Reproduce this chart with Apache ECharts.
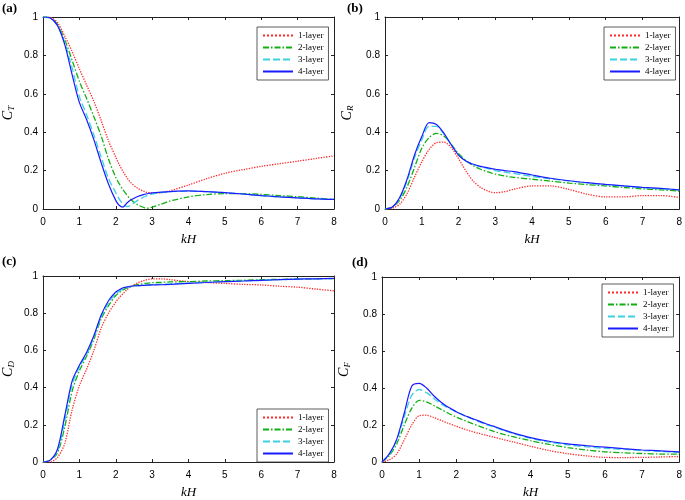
<!DOCTYPE html>
<html><head><meta charset="utf-8">
<script src="https://cdn.jsdelivr.net/npm/echarts@6/dist/echarts.min.js"></script>
<style>html,body{margin:0;padding:0;background:#fff}#c{width:685px;height:500px}</style>
</head><body><div id="c"></div>
<script>
var kH = [0,0.2,0.4,0.6,0.8,1.0,1.2,1.4,1.6,1.8,2.0,2.1,2.2,2.3,2.4,2.6,2.8,2.9,3.0,3.25,3.5,4,4.5,5,5.5,6,6.5,7,7.5,8];
var layerNames = ['1-layer','2-layer','3-layer','4-layer'];

// (a) C_T
var CT_1 = [1,0.998,0.97,0.9,0.82,0.73,0.645,0.56,0.46,0.355,0.27,0.23,0.195,0.165,0.14,0.108,0.09,0.085,0.083,0.085,0.095,0.125,0.158,0.186,0.205,0.222,0.236,0.249,0.263,0.277];
var CT_2 = [1,0.995,0.96,0.88,0.775,0.665,0.575,0.48,0.38,0.26,0.165,0.13,0.1,0.075,0.052,0.022,0.006,0.004,0.01,0.025,0.042,0.063,0.075,0.08,0.08,0.076,0.07,0.064,0.057,0.05];
var CT_3 = [1,0.995,0.955,0.865,0.735,0.585,0.49,0.385,0.27,0.16,0.085,0.05,0.025,0.013,0.018,0.045,0.065,0.072,0.078,0.085,0.09,0.093,0.09,0.085,0.078,0.07,0.063,0.058,0.053,0.05];
var CT_4 = [1,0.995,0.955,0.855,0.7,0.555,0.465,0.36,0.24,0.13,0.045,0.018,0.01,0.03,0.045,0.065,0.077,0.081,0.084,0.088,0.091,0.094,0.09,0.085,0.078,0.07,0.063,0.058,0.053,0.05];
// (b) C_R
var CR_1 = [0,0.004,0.025,0.08,0.165,0.246,0.31,0.345,0.348,0.32,0.262,0.23,0.198,0.17,0.145,0.112,0.093,0.087,0.085,0.09,0.103,0.12,0.12,0.102,0.077,0.063,0.063,0.07,0.07,0.06];
var CR_2 = [0,0.01,0.045,0.115,0.215,0.316,0.372,0.394,0.38,0.337,0.288,0.27,0.253,0.238,0.225,0.207,0.193,0.187,0.182,0.172,0.165,0.155,0.145,0.135,0.127,0.12,0.112,0.105,0.1,0.093];
var CR_3 = [0,0.01,0.055,0.145,0.265,0.36,0.43,0.43,0.39,0.335,0.282,0.265,0.25,0.24,0.232,0.22,0.21,0.205,0.2,0.192,0.185,0.17,0.157,0.146,0.136,0.127,0.119,0.111,0.105,0.1];
var CR_4 = [0,0.01,0.06,0.155,0.28,0.377,0.45,0.44,0.395,0.335,0.28,0.263,0.25,0.24,0.233,0.222,0.214,0.21,0.207,0.2,0.195,0.177,0.16,0.147,0.137,0.128,0.12,0.113,0.107,0.1];
// (c) C_D
var CD_1 = [0,0.0,0.025,0.1,0.28,0.41,0.5,0.6,0.72,0.8,0.86,0.885,0.905,0.925,0.94,0.962,0.977,0.982,0.985,0.985,0.98,0.97,0.965,0.96,0.955,0.952,0.945,0.94,0.93,0.92];
var CD_2 = [0,0.01,0.05,0.19,0.38,0.49,0.57,0.66,0.77,0.84,0.895,0.912,0.925,0.935,0.943,0.953,0.96,0.962,0.964,0.966,0.968,0.97,0.973,0.975,0.977,0.98,0.982,0.984,0.985,0.986];
var CD_3 = [0,0.01,0.06,0.22,0.415,0.51,0.58,0.67,0.78,0.855,0.905,0.918,0.93,0.937,0.942,0.948,0.951,0.953,0.954,0.956,0.958,0.962,0.966,0.97,0.973,0.977,0.98,0.983,0.985,0.986];
var CD_4 = [0,0.01,0.07,0.25,0.435,0.52,0.59,0.68,0.79,0.867,0.914,0.926,0.936,0.941,0.945,0.948,0.95,0.951,0.952,0.953,0.955,0.96,0.965,0.97,0.973,0.977,0.98,0.983,0.985,0.987];
// (d) C_F
var CF_1 = [0,0.012,0.045,0.12,0.2,0.25,0.253,0.24,0.224,0.208,0.193,0.186,0.179,0.172,0.166,0.155,0.145,0.14,0.135,0.122,0.11,0.085,0.062,0.045,0.033,0.025,0.024,0.025,0.027,0.03];
var CF_2 = [0,0.035,0.1,0.2,0.29,0.333,0.325,0.305,0.283,0.262,0.243,0.234,0.226,0.218,0.21,0.195,0.18,0.173,0.166,0.151,0.138,0.115,0.095,0.078,0.065,0.055,0.05,0.046,0.043,0.042];
var CF_3 = [0,0.04,0.12,0.245,0.36,0.392,0.375,0.343,0.313,0.29,0.27,0.261,0.252,0.243,0.235,0.218,0.203,0.196,0.19,0.172,0.156,0.128,0.108,0.093,0.082,0.074,0.068,0.062,0.057,0.052];
var CF_4 = [0,0.045,0.125,0.265,0.41,0.425,0.4,0.357,0.322,0.294,0.272,0.262,0.253,0.245,0.237,0.222,0.207,0.2,0.194,0.175,0.159,0.132,0.112,0.098,0.088,0.08,0.072,0.065,0.06,0.055];

var panels = [
  {label:'(a)', sub:'T', data:[CT_1,CT_2,CT_3,CT_4], grid:{left:37,top:17,width:297,height:192}, lab:{left:2,top:2}, leg:{left:257,top:27}, ygap:27},
  {label:'(b)', sub:'R', data:[CR_1,CR_2,CR_3,CR_4], grid:{left:385,top:17,width:297,height:192}, lab:{left:347,top:2}, leg:{left:604,top:27}, ygap:30},
  {label:'(c)', sub:'D', data:[CD_1,CD_2,CD_3,CD_4], grid:{left:37,top:276,width:297,height:193}, lab:{left:2,top:255}, leg:{left:257,top:409}, ygap:27},
  {label:'(d)', sub:'F', data:[CF_1,CF_2,CF_3,CF_4], grid:{left:382,top:277,width:298,height:192}, lab:{left:352,top:256}, leg:{left:602,top:284}, ygap:30}
];
var styles = [
  {color:'#ff2a2a', type:'dotted', width:1.3},
  {color:'#12b012', type:[6,2,1.5,2], width:1.3},
  {color:'#3cd2e0', type:[7,3], width:1.3},
  {color:'#1a1aff', type:'solid', width:1.2}
];

var axisCol = '#222';
var option = {animation:false, backgroundColor:'#fff', grid:[], xAxis:[], yAxis:[], series:[], title:[], legend:[]};
panels.forEach(function(p, gi){
  option.grid.push(p.grid);
  option.title.push({text:p.label, left:p.lab.left, top:p.lab.top, padding:0,
    textStyle:{fontFamily:'Liberation Serif', fontWeight:'bold', fontSize:13, color:'#000'}});
  var common = {type:'value', gridIndex:gi, min:0, splitLine:{show:false},
    axisLine:{show:true, onZero:false, lineStyle:{color:axisCol, width:1}},
    axisTick:{show:true, inside:true, length:3, lineStyle:{color:axisCol}}};
  option.xAxis.push(Object.assign({}, common, {max:8, interval:1, position:'bottom',
    axisLabel:{fontFamily:'Liberation Sans', fontSize:10, color:'#000', margin:8},
    name:'kH', nameLocation:'middle', nameGap:24,
    nameTextStyle:{fontFamily:'Liberation Serif', fontStyle:'italic', fontSize:13, color:'#000'}}));
  option.xAxis.push(Object.assign({}, common, {max:8, interval:1, position:'top', axisLabel:{show:false}}));
  option.yAxis.push(Object.assign({}, common, {max:1, interval:0.2, position:'left',
    axisLabel:{fontFamily:'Liberation Sans', fontSize:10, color:'#000', margin:5,
      formatter:function(v){return String(Math.round(v*10)/10);}},
    name:'{i|C}{s|' + p.sub + '}', nameLocation:'middle', nameGap:p.ygap, nameRotate:90,
    nameTextStyle:{rich:{
      i:{fontFamily:'Liberation Serif', fontStyle:'italic', fontSize:14, color:'#000'},
      s:{fontFamily:'Liberation Serif', fontStyle:'italic', fontSize:9, color:'#000', padding:[7,0,0,0]}}}}));
  option.yAxis.push(Object.assign({}, common, {max:1, interval:0.2, position:'right', axisLabel:{show:false}}));
  p.data.forEach(function(vals, si){
    var st = styles[si];
    option.series.push({type:'line', name:layerNames[si], xAxisIndex:gi*2, yAxisIndex:gi*2,
      data:kH.map(function(x,i){return [x, vals[i]];}), showSymbol:false, symbol:'none',
      smooth:0.3, clip:true,
      lineStyle:{color:st.color, type:st.type, width:st.width}, itemStyle:{color:st.color}, z:2+si});
  });
  option.legend.push({show:true, data:layerNames.slice(), left:p.leg.left, top:p.leg.top, orient:'vertical',
    itemWidth:30, itemHeight:9, itemGap:3, padding:[4,5,4,5],
    itemStyle:{opacity:0, borderWidth:0},
    backgroundColor:'#fff', borderColor:'#333', borderWidth:0.8, z:10,
    textStyle:{fontFamily:'Liberation Serif', fontSize:9, color:'#000'}});
});
var chart = echarts.init(document.getElementById('c'), null, {renderer:'canvas'});
chart.setOption(option);
</script></body></html>
